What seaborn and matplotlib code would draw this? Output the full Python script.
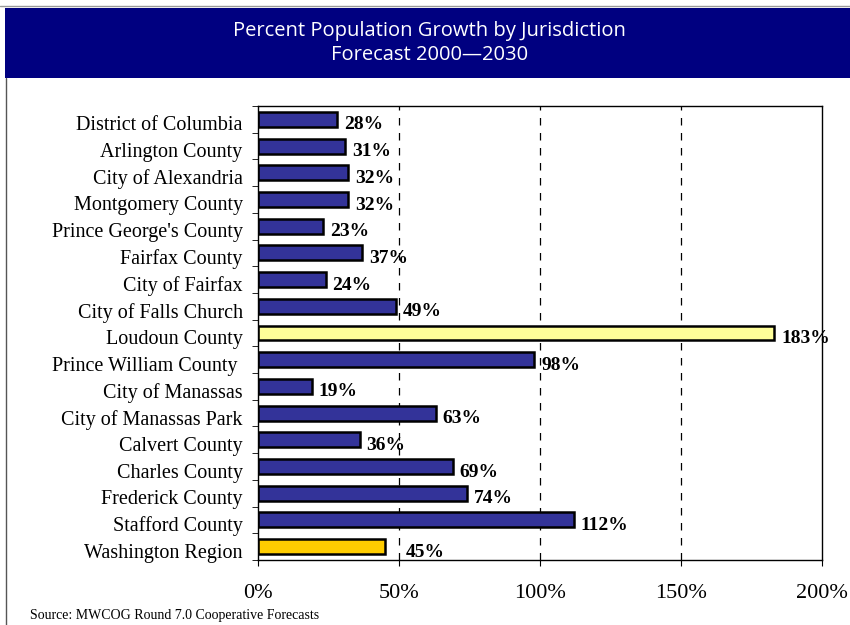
import pandas as pd
import matplotlib
matplotlib.use("Agg")
import matplotlib.pyplot as plt
import matplotlib.transforms as mtransforms
from matplotlib.patches import Rectangle
from matplotlib.lines import Line2D
from matplotlib.ticker import FixedLocator, PercentFormatter
import seaborn as sns

# data
jurisdictions = [
    "District of Columbia", "Arlington County", "City of Alexandria",
    "Montgomery County", "Prince George's County", "Fairfax County",
    "City of Fairfax", "City of Falls Church", "Loudoun County",
    "Prince William County ", "City of Manassas", "City of Manassas Park",
    "Calvert County", "Charles County", "Frederick County",
    "Stafford County", "Washington Region",
]
growth = [28, 31, 32, 32, 23, 37, 24, 49, 183, 98, 19, 63, 36, 69, 74, 112, 45]
bar_colors = ["#333399"] * 8 + ["#FFFF99"] + ["#333399"] * 7 + ["#FFCC00"]

df = pd.DataFrame({"jurisdiction": jurisdictions, "growth": growth})

sns.set_style("white")
plt.rcParams["font.family"] = ["Liberation Serif", "DejaVu Serif"]
plt.rcParams["text.color"] = "black"
plt.rcParams["xtick.color"] = "black"
plt.rcParams["ytick.color"] = "black"

fig = plt.figure(figsize=(8.5, 6.25), dpi=100)
ax = fig.add_axes([258 / 850, (625 - 560) / 625, (822 - 258) / 850, (560 - 106) / 625])

sns.barplot(data=df, x="growth", y="jurisdiction", hue="jurisdiction",
            palette=bar_colors, saturation=1, legend=False, orient="h", width=0.56,
            edgecolor="black", linewidth=1.8, ax=ax)

ax.set_xlim(0, 200)
ax.set_ylim(len(jurisdictions) - 0.5, -0.5)
ax.set_xticks([0, 50, 100, 150, 200])
ax.xaxis.set_major_formatter(PercentFormatter(decimals=0))
ax.tick_params(axis="x", labelsize=16, length=4, direction="out", pad=13, bottom=True)
ax.tick_params(axis="y", which="major", labelsize=14.5, length=0, pad=11)
ax.yaxis.set_minor_locator(FixedLocator([i - 0.5 for i in range(len(jurisdictions) + 1)]))
ax.tick_params(axis="y", which="minor", length=4, left=True)
shift = mtransforms.ScaledTranslation(0, -4 / 100, fig.dpi_scale_trans)
for lbl in ax.get_yticklabels():
    lbl.set_transform(lbl.get_transform() + shift)
ax.set_xlabel("")
ax.set_ylabel("")

for x in [50, 100, 150]:
    ax.axvline(x, color="black", linestyle=(0, (6, 6)), linewidth=0.9, zorder=0)

for s in ax.spines.values():
    s.set_color("black")
    s.set_linewidth(1.0)

for i, v in enumerate(growth):
    off = 15 if i == len(growth) - 1 else 5
    ax.annotate(f"{v}%", (v, i), xytext=(off, -4), textcoords="offset points",
                ha="left", va="center", fontsize=14, fontweight="bold", color="black")

# title band
fig.patches.append(Rectangle((5 / 850, (625 - 78) / 625), 845 / 850, 70 / 625,
                             transform=fig.transFigure, facecolor="#000080",
                             edgecolor="none", zorder=-1))
fig.lines.append(Line2D([0, 1], [(625 - 6) / 625] * 2, transform=fig.transFigure,
                        color="#999999", linewidth=1))
fig.lines.append(Line2D([5.5 / 850] * 2, [0, (625 - 78) / 625], transform=fig.transFigure,
                        color="#555555", linewidth=1))
fig.text(0.505, (625 - 31) / 625, "Percent Population Growth by Jurisdiction",
         ha="center", va="center", color="white", fontsize=14.5,
         family=["Open Sans", "DejaVu Sans"])
fig.text(0.505, (625 - 55) / 625, "Forecast 2000\u20142030",
         ha="center", va="center", color="white", fontsize=14.5,
         family=["Open Sans", "DejaVu Sans"])

fig.text(30 / 850, (625 - 615) / 625, "Source: MWCOG Round 7.0 Cooperative Forecasts",
         ha="left", va="center", fontsize=10)

fig.savefig("out.png", dpi=100)
